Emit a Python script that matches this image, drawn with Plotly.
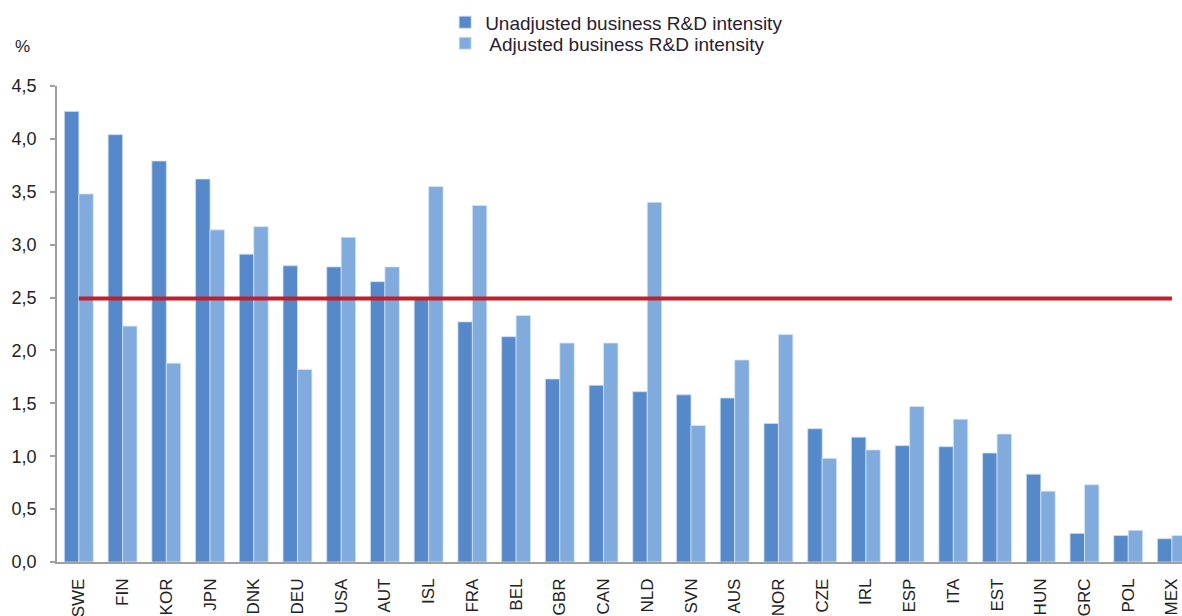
import plotly.graph_objects as go

countries = ["SWE", "FIN", "KOR", "JPN", "DNK", "DEU", "USA", "AUT", "ISL", "FRA",
             "BEL", "GBR", "CAN", "NLD", "SVN", "AUS", "NOR", "CZE", "IRL", "ESP",
             "ITA", "EST", "HUN", "GRC", "POL", "MEX"]
unadjusted = [4.26, 4.04, 3.79, 3.62, 2.91, 2.80, 2.79, 2.65, 2.50, 2.27,
              2.13, 1.73, 1.67, 1.61, 1.58, 1.55, 1.31, 1.26, 1.18, 1.10,
              1.09, 1.03, 0.83, 0.27, 0.25, 0.22]
adjusted = [3.48, 2.23, 1.88, 3.14, 3.17, 1.82, 3.07, 2.79, 3.55, 3.37,
            2.33, 2.07, 2.07, 3.40, 1.29, 1.91, 2.15, 0.98, 1.06, 1.47,
            1.35, 1.21, 0.67, 0.73, 0.30, 0.25]
reference_level = 2.49
y_ticks = [0, 0.5, 1.0, 1.5, 2.0, 2.5, 3.0, 3.5, 4.0, 4.5]

font_family = "Liberation Sans, Arial, sans-serif"

fig = go.Figure()
fig.add_trace(go.Bar(
    x=countries, y=unadjusted, name="Unadjusted business R&D intensity",
    marker=dict(color="#5589C9", line=dict(color="#C9DAEF", width=0.8)),
    legend="legend",
))
fig.add_trace(go.Bar(
    x=countries, y=adjusted, name=" Adjusted business R&D intensity",
    marker=dict(color="#80ABDC", line=dict(color="#D6E4F4", width=0.8)),
    legend="legend2",
))
fig.add_trace(go.Scatter(
    x=countries, y=[reference_level] * len(countries), mode="lines",
    line=dict(color="#C0202A", width=4), showlegend=False, hoverinfo="skip",
))

legend_common = dict(
    x=0.345, xanchor="left", yanchor="top", orientation="v",
    font=dict(size=19, color="#2a2030"),
    bgcolor="rgba(0,0,0,0)", itemwidth=30,
)

fig.update_layout(
    width=1182, height=616,
    margin=dict(l=57, r=0, t=86, b=54, autoexpand=False),
    paper_bgcolor="white", plot_bgcolor="white",
    barmode="group", bargap=0.34, bargroupgap=0,
    separators=", ",
    font=dict(family=font_family, size=17, color="#222222"),
    legend=dict(y=1.1737, **legend_common),
    legend2=dict(y=1.1296, **legend_common),
    annotations=[dict(
        text="%", xref="paper", yref="paper", x=-0.031, y=1.082,
        xanchor="center", yanchor="middle", showarrow=False,
        font=dict(size=17, color="#222222"),
    )],
)
fig.update_yaxes(
    range=[0, 4.5], tickvals=y_ticks, tickformat=".1f",
    showgrid=False, zeroline=False,
    showline=True, linecolor="#A0A0A0", linewidth=1.5,
    ticks="outside", ticklen=5, tickcolor="#A0A0A0", tickwidth=1.5,
    ticklabelstandoff=10,
    tickfont=dict(size=18, color="#222222"),
)
fig.update_xaxes(
    range=[-0.5, 25.23], showgrid=False,
    showline=True, linecolor="#A0A0A0", linewidth=1.5,
    ticks="", tickangle=-90, ticklabelstandoff=8,
    tickfont=dict(size=17, color="#222222"),
)

fig.write_html(
    "out.html",
    config={"displayModeBar": False},
    post_script="document.body.style.margin='0';document.body.style.overflow='hidden';",
)
